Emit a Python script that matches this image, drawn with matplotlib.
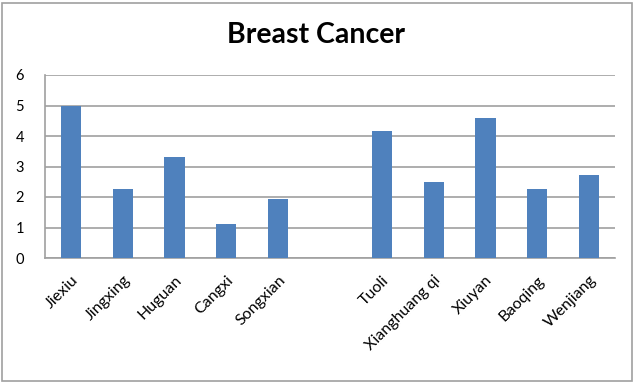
import numpy as np
import matplotlib
matplotlib.use("Agg")
import matplotlib.pyplot as plt
from matplotlib.patches import Rectangle

plt.rcParams["font.family"] = ["Lato", "DejaVu Sans"]

# data
categories = ["Jiexiu", "Jingxing", "Huguan", "Cangxi", "Songxian", "",
              "Tuoli", "Xianghuang qi", "Xiuyan", "Baoqing", "Wenjiang"]
values = [5.0, 2.25, 3.32, 1.12, 1.95, np.nan, 4.15, 2.5, 4.58, 2.25, 2.72]
yticks = [0, 1, 2, 3, 4, 5, 6]

fig = plt.figure(figsize=(6.36, 3.83), dpi=100)
ax = fig.add_axes([45 / 636, 1 - 258 / 383, 570 / 636, 183 / 383])

x = np.arange(len(categories))
ax.bar(x, values, width=0.39, color="#4f81bd", zorder=3)

ax.set_xlim(-0.5, len(categories) - 0.5)
ax.set_ylim(0, 6)
ax.set_yticks(yticks)
ax.set_xticks(x)
ax.set_xticklabels(categories, rotation=45, ha="right", rotation_mode="anchor",
                   fontsize=11.5)
ax.tick_params(axis="x", length=0, pad=11)
ax.tick_params(axis="y", length=0, pad=15, labelsize=10.5)

ax.grid(axis="y", color="#a0a0a0", linewidth=1.2, zorder=0)
for side in ["top", "right"]:
    ax.spines[side].set_visible(False)
ax.spines["left"].set_color("#a0a0a0")
ax.spines["bottom"].set_color("#a0a0a0")
ax.spines["left"].set_linewidth(1.2)
ax.spines["bottom"].set_linewidth(1.2)

fig.text(0.497, 1 - 35 / 383, "Breast Cancer", ha="center", va="center",
         fontsize=20.5, fontweight="bold")

fig.patches.append(Rectangle((2 / 636, 2 / 383), 630 / 636, 378 / 383,
                             transform=fig.transFigure, fill=False,
                             edgecolor="#a0a0a0", linewidth=1.2))

fig.savefig("out.png", dpi=100)
